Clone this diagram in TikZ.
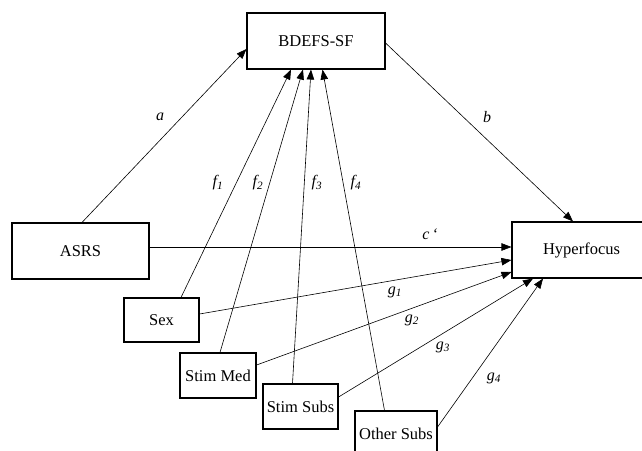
\documentclass[tikz,border=0pt]{standalone}
\usepackage{fontspec}
\setmainfont{Liberation Serif}
\usetikzlibrary{arrows.meta,calc}

\tikzset{
  varbox/.style={draw, line width=1.1pt, inner sep=0pt, font=\fontsize{16.5}{19}\selectfont},
  path/.style={line width=0.6pt, -{Triangle[length=10pt,width=7.5pt]}},
  coef/.style={inner sep=0pt, font=\fontsize{16}{19}\selectfont\itshape}
}
\newcommand{\coefsub}[2]{#1\textsubscript{#2}}

\begin{document}
\begin{tikzpicture}[x=1pt, y=-1pt]
  \useasboundingbox (0,0) rectangle (642,450);

  % variables
  \node[varbox, minimum width=138pt, minimum height=56pt] (bdefs) at (316,41) {BDEFS-SF};
  \node[varbox, minimum width=137pt, minimum height=56pt] (asrs) at (80.5,251) {ASRS};
  \node[varbox, minimum width=139pt, minimum height=56pt] (hyper) at (581.5,250) {Hyperfocus};
  \node[varbox, minimum width=75pt, minimum height=44pt] (sex) at (161.5,320) {Sex};
  \node[varbox, minimum width=76pt, minimum height=45pt] (stimmed) at (218,375.5) {Stim Med};
  \node[varbox, minimum width=75pt, minimum height=45pt] (stimsubs) at (300.5,406.5) {Stim Subs};
  \node[varbox, minimum width=82pt, minimum height=45pt] (othersubs) at (396,433.5) {Other Subs};

  % mediation paths
  \draw[path] ([xshift=1.5pt]asrs.north) -- ([yshift=-8pt]bdefs.west);
  \draw[path] ([yshift=-2pt]bdefs.east) -- ([xshift=-8.5pt]hyper.north);
  \draw[path] ([yshift=4pt]asrs.east) -- ([yshift=3pt]hyper.west);

  % covariates -> mediator
  \draw[path] ([xshift=19.5pt]sex.north) -- ([xshift=-25pt]bdefs.south);
  \draw[path] ([xshift=2pt]stimmed.north) -- ([xshift=-13pt]bdefs.south);
  \draw[path] ([xshift=-8pt]stimsubs.north) -- ([xshift=-5pt]bdefs.south);
  \draw[path] ([xshift=-11.5pt]othersubs.north) -- ([xshift=6.5pt]bdefs.south);

  % covariates -> outcome
  \draw[path] ([yshift=6pt]sex.east) -- ([yshift=-10pt]hyper.west);
  \draw[path] ([yshift=10.5pt]stimmed.east) -- ([yshift=-22pt]hyper.west);
  \draw[path] ([yshift=9.5pt]stimsubs.east) -- ([xshift=-48.5pt]hyper.south);
  \draw[path] ([yshift=6.5pt]othersubs.east) -- ([xshift=-38.5pt]hyper.south);

  % path coefficients
  \node[coef] (la) at (160,117) {a};
  \node[coef] (lb) at (487,117) {b};
  \node[coef] (lc) at (430,234) {c\,‘};
  \node[coef] (lf1) at (218,183) {\coefsub{f}{1}};
  \node[coef] (lf2) at (258,183) {\coefsub{f}{2}};
  \node[coef] (lf3) at (317,183) {\coefsub{f}{3}};
  \node[coef] (lf4) at (356,183) {\coefsub{f}{4}};
  \node[coef] (lg1) at (395,292) {\coefsub{g}{1}};
  \node[coef] (lg2) at (412,320) {\coefsub{g}{2}};
  \node[coef] (lg3) at (443,347) {\coefsub{g}{3}};
  \node[coef] (lg4) at (494,378) {\coefsub{g}{4}};
\end{tikzpicture}
\end{document}
